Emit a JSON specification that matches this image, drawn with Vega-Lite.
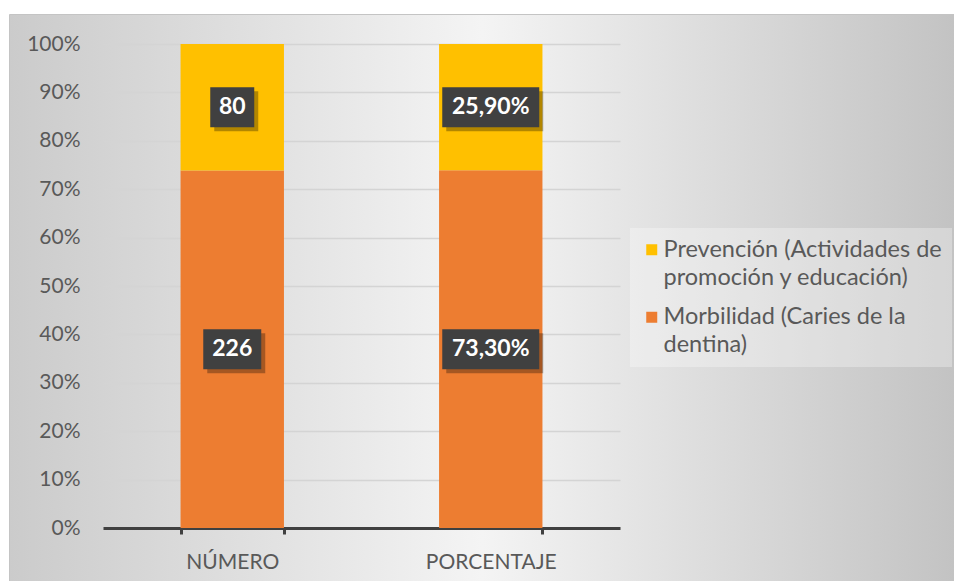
{
  "$schema": "https://vega.github.io/schema/vega-lite/v6.json",
  "autosize": {"type": "none"},
  "padding": {"left": 9, "top": 14, "right": 0, "bottom": 0},
  "width": 945,
  "height": 567,
  "background": "#ffffff",
  "view": {
    "fill": {
      "gradient": "linear",
      "x1": 0, "y1": 0.5, "x2": 1, "y2": 0.5,
      "stops": [
        {"offset": 0, "color": "#cbcbcb"},
        {"offset": 0.5, "color": "#f4f4f4"},
        {"offset": 1, "color": "#c3c3c3"}
      ]
    },
    "stroke": "#c4c4c4",
    "strokeWidth": 1
  },
  "data": {
    "values": [
      {"categoria": "NÚMERO", "serie": "Morbilidad (Caries de la dentina)", "valor": 226, "etiqueta": "226"},
      {"categoria": "NÚMERO", "serie": "Prevención (Actividades de promoción y educación)", "valor": 80, "etiqueta": "80"},
      {"categoria": "PORCENTAJE", "serie": "Morbilidad (Caries de la dentina)", "valor": 73.3, "etiqueta": "73,30%"},
      {"categoria": "PORCENTAJE", "serie": "Prevención (Actividades de promoción y educación)", "valor": 25.9, "etiqueta": "25,90%"}
    ]
  },
  "transform": [
    {"stack": "valor", "groupby": ["categoria"], "sort": [{"field": "serie", "order": "ascending"}], "offset": "normalize", "as": ["y0", "y1"]}
  ],
  "encoding": {
    "x": {
      "field": "categoria",
      "type": "nominal",
      "sort": ["NÚMERO", "PORCENTAJE"],
      "scale": {"range": [94, 611], "paddingInner": 0.6, "paddingOuter": 0.3},
      "axis": {
        "title": null,
        "orient": "bottom",
        "offset": -53,
        "labelAngle": 0,
        "labelFont": "Lato",
        "labelFontSize": 21,
        "labelColor": "#595959",
        "labelPadding": 17,
        "domainColor": "#404040",
        "domainWidth": 3,
        "tickBand": "extent",
        "tickColor": "#404040",
        "tickWidth": 3,
        "tickSize": 6,
        "grid": false
      }
    }
  },
  "layer": [
    {
      "mark": {"type": "bar"},
      "encoding": {
        "y": {
          "field": "y0",
          "type": "quantitative",
          "title": null,
          "scale": {"domain": [0, 1], "range": [514, 30], "nice": false, "zero": true},
          "axis": {
            "title": null,
            "values": [0, 0.1, 0.2, 0.3, 0.4, 0.5, 0.6, 0.7, 0.8, 0.9, 1],
            "format": ".0%",
            "offset": -94,
            "domain": false,
            "ticks": false,
            "labelPadding": 23,
            "labelFont": "Lato",
            "labelFontSize": 21,
            "labelColor": "#595959",
            "grid": true,
            "gridColor": "#d4d4d4",
            "gridWidth": 1.5
          }
        },
        "y2": {"field": "y1"},
        "color": {
          "field": "serie",
          "type": "nominal",
          "scale": {
            "domain": ["Prevención (Actividades de promoción y educación)", "Morbilidad (Caries de la dentina)"],
            "range": ["#FFC000", "#ED7D31"]
          },
          "legend": {
            "title": null,
            "orient": "none",
            "legendX": 621,
            "legendY": 214,
            "padding": 10,
            "fillColor": "rgba(255,255,255,0.3)",
            "symbolType": "square",
            "symbolSize": 121,
            "symbolStrokeWidth": 0,
            "labelFont": "Lato",
            "labelFontSize": 23.5,
            "labelColor": "#595959",
            "labelLimit": 400,
            "labelOffset": 0,
            "rowPadding": 14.5,
            "labelExpr": "datum.label == 'Morbilidad (Caries de la dentina)' ? ['Morbilidad (Caries de la', 'dentina)'] : ['Prevención (Actividades de', 'promoción y educación)']"
          }
        }
      }
    },
    {
      "transform": [
        {"fold": ["y0", "y1"], "as": ["k", "v"]},
        {"aggregate": [{"op": "mean", "field": "v", "as": "mid"}], "groupby": ["categoria", "serie", "etiqueta"]}
      ],
      "encoding": {
        "y": {"field": "mid", "type": "quantitative", "title": null}
      },
      "layer": [
        {
          "mark": {"type": "point", "filled": true, "size": 10000, "color": "#000000", "opacity": 0.3, "xOffset": 4, "yOffset": 4},
          "encoding": {
            "shape": {
              "field": "etiqueta",
              "type": "nominal",
              "scale": {
                "domain": ["80", "226", "25,90%", "73,30%"],
                "range": [
                  "M-0.44,-0.4H0.44V0.4H-0.44Z",
                  "M-0.58,-0.4H0.58V0.4H-0.58Z",
                  "M-0.97,-0.4H0.97V0.4H-0.97Z",
                  "M-0.97,-0.4H0.97V0.4H-0.97Z"
                ]
              },
              "legend": null
            }
          }
        },
        {
          "mark": {"type": "point", "filled": true, "size": 10000, "color": "#404040", "opacity": 1},
          "encoding": {
            "shape": {"field": "etiqueta", "type": "nominal", "legend": null}
          }
        },
        {
          "mark": {"type": "text", "font": "Lato", "fontWeight": "bold", "fontSize": 23, "color": "#ffffff", "align": "center", "baseline": "middle"},
          "encoding": {
            "text": {"field": "etiqueta", "type": "nominal"}
          }
        }
      ]
    }
  ],
  "config": {
    "font": "Lato",
    "style": {"guide-label": {"lineHeight": 28}}
  }
}
